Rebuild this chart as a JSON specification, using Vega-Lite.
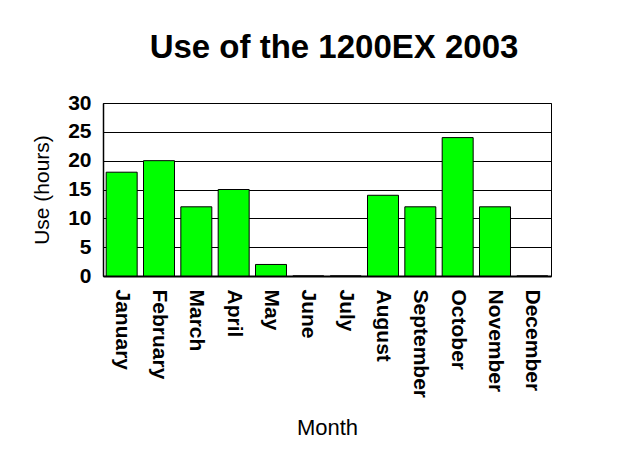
{
  "$schema": "https://vega.github.io/schema/vega-lite/v6.json",
  "width": 448,
  "height": 173,
  "autosize": {"type": "none"},
  "padding": {"left": 103, "top": 103, "right": 89, "bottom": 179},
  "background": "white",
  "title": {
    "text": "Use of the 1200EX 2003",
    "font": "Liberation Sans",
    "fontSize": 33,
    "fontWeight": "bold",
    "color": "#000",
    "anchor": "middle",
    "baseline": "alphabetic",
    "offset": 1,
    "dx": 7
  },
  "data": {
    "values": [
      {"Month": "January", "Use": 18},
      {"Month": "February", "Use": 20},
      {"Month": "March", "Use": 12},
      {"Month": "April", "Use": 15},
      {"Month": "May", "Use": 2},
      {"Month": "June", "Use": 0},
      {"Month": "July", "Use": 0},
      {"Month": "August", "Use": 14},
      {"Month": "September", "Use": 12},
      {"Month": "October", "Use": 24},
      {"Month": "November", "Use": 12},
      {"Month": "December", "Use": 0}
    ]
  },
  "mark": {"type": "bar", "color": "#00FF00", "stroke": "#000", "strokeWidth": 1},
  "encoding": {
    "x": {
      "field": "Month",
      "type": "nominal",
      "sort": null,
      "title": "Month",
      "scale": {"paddingInner": 0.17, "paddingOuter": 0.085},
      "axis": {
        "labelAngle": 90,
        "labelAlign": "left",
        "labelBaseline": "middle",
        "labelFont": "Liberation Sans",
        "labelFontSize": 21,
        "labelFontWeight": "bold",
        "labelColor": "#000",
        "labelPadding": 13,
        "ticks": false,
        "domainColor": "#000",
        "domainWidth": 2,
        "titleFont": "Liberation Sans",
        "titleFontSize": 22,
        "titleFontWeight": "normal",
        "titleColor": "#000",
        "titlePadding": 20
      }
    },
    "y": {
      "field": "Use",
      "type": "quantitative",
      "title": "Use (hours)",
      "scale": {"domain": [0, 30], "nice": false},
      "axis": {
        "values": [0, 5, 10, 15, 20, 25, 30],
        "labelFont": "Liberation Sans",
        "labelFontSize": 21,
        "labelFontWeight": "bold",
        "labelColor": "#000",
        "labelPadding": 12,
        "ticks": false,
        "domainColor": "#000",
        "domainWidth": 1.5,
        "grid": true,
        "gridColor": "#000",
        "gridWidth": 1,
        "gridOpacity": 1,
        "titleFont": "Liberation Sans",
        "titleFontSize": 21,
        "titleFontWeight": "normal",
        "titleColor": "#000",
        "titlePadding": 15
      }
    }
  },
  "config": {
    "view": {"stroke": "#000", "strokeWidth": 1}
  }
}
